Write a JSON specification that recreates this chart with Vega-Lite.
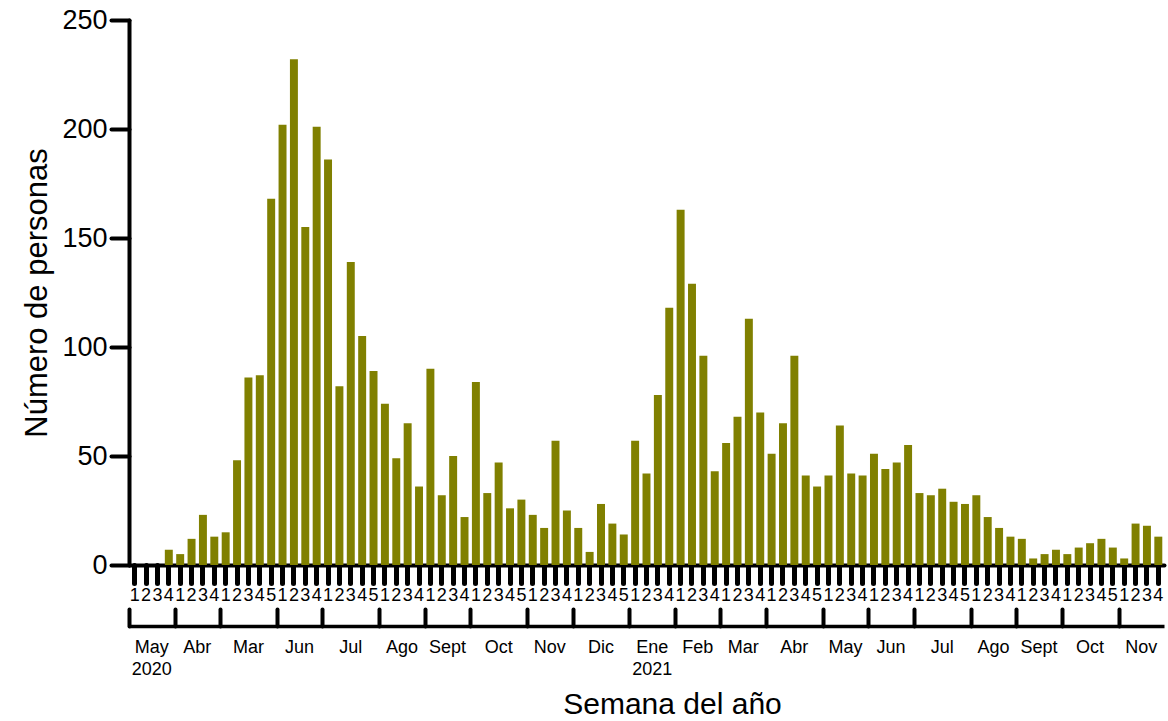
{
  "$schema": "https://vega.github.io/schema/vega-lite/v6.json",
  "width": 1035,
  "height": 545,
  "autosize": {"type": "none"},
  "padding": {"left": 129, "top": 20, "right": 4, "bottom": 156},
  "config": {
    "font": "Liberation Sans",
    "view": {"stroke": null},
    "axis": {"grid": false, "labelColor": "#000", "titleColor": "#000", "domainColor": "#000", "tickColor": "#000", "titleFontWeight": "normal"}
  },
  "data": {
    "values": [
      {"key": "2020|May|1", "anio": 2020, "mes": "May", "semana": 1, "n": 0},
      {"key": "2020|May|2", "anio": 2020, "mes": "May", "semana": 2, "n": 0},
      {"key": "2020|May|3", "anio": 2020, "mes": "May", "semana": 3, "n": 0},
      {"key": "2020|May|4", "anio": 2020, "mes": "May", "semana": 4, "n": 7},
      {"key": "2020|Abr|1", "anio": 2020, "mes": "Abr", "semana": 1, "n": 5},
      {"key": "2020|Abr|2", "anio": 2020, "mes": "Abr", "semana": 2, "n": 12},
      {"key": "2020|Abr|3", "anio": 2020, "mes": "Abr", "semana": 3, "n": 23},
      {"key": "2020|Abr|4", "anio": 2020, "mes": "Abr", "semana": 4, "n": 13},
      {"key": "2020|Mar|1", "anio": 2020, "mes": "Mar", "semana": 1, "n": 15},
      {"key": "2020|Mar|2", "anio": 2020, "mes": "Mar", "semana": 2, "n": 48},
      {"key": "2020|Mar|3", "anio": 2020, "mes": "Mar", "semana": 3, "n": 86},
      {"key": "2020|Mar|4", "anio": 2020, "mes": "Mar", "semana": 4, "n": 87},
      {"key": "2020|Mar|5", "anio": 2020, "mes": "Mar", "semana": 5, "n": 168},
      {"key": "2020|Jun|1", "anio": 2020, "mes": "Jun", "semana": 1, "n": 202},
      {"key": "2020|Jun|2", "anio": 2020, "mes": "Jun", "semana": 2, "n": 232},
      {"key": "2020|Jun|3", "anio": 2020, "mes": "Jun", "semana": 3, "n": 155},
      {"key": "2020|Jun|4", "anio": 2020, "mes": "Jun", "semana": 4, "n": 201},
      {"key": "2020|Jul|1", "anio": 2020, "mes": "Jul", "semana": 1, "n": 186},
      {"key": "2020|Jul|2", "anio": 2020, "mes": "Jul", "semana": 2, "n": 82},
      {"key": "2020|Jul|3", "anio": 2020, "mes": "Jul", "semana": 3, "n": 139},
      {"key": "2020|Jul|4", "anio": 2020, "mes": "Jul", "semana": 4, "n": 105},
      {"key": "2020|Jul|5", "anio": 2020, "mes": "Jul", "semana": 5, "n": 89},
      {"key": "2020|Ago|1", "anio": 2020, "mes": "Ago", "semana": 1, "n": 74},
      {"key": "2020|Ago|2", "anio": 2020, "mes": "Ago", "semana": 2, "n": 49},
      {"key": "2020|Ago|3", "anio": 2020, "mes": "Ago", "semana": 3, "n": 65},
      {"key": "2020|Ago|4", "anio": 2020, "mes": "Ago", "semana": 4, "n": 36},
      {"key": "2020|Sept|1", "anio": 2020, "mes": "Sept", "semana": 1, "n": 90},
      {"key": "2020|Sept|2", "anio": 2020, "mes": "Sept", "semana": 2, "n": 32},
      {"key": "2020|Sept|3", "anio": 2020, "mes": "Sept", "semana": 3, "n": 50},
      {"key": "2020|Sept|4", "anio": 2020, "mes": "Sept", "semana": 4, "n": 22},
      {"key": "2020|Oct|1", "anio": 2020, "mes": "Oct", "semana": 1, "n": 84},
      {"key": "2020|Oct|2", "anio": 2020, "mes": "Oct", "semana": 2, "n": 33},
      {"key": "2020|Oct|3", "anio": 2020, "mes": "Oct", "semana": 3, "n": 47},
      {"key": "2020|Oct|4", "anio": 2020, "mes": "Oct", "semana": 4, "n": 26},
      {"key": "2020|Oct|5", "anio": 2020, "mes": "Oct", "semana": 5, "n": 30},
      {"key": "2020|Nov|1", "anio": 2020, "mes": "Nov", "semana": 1, "n": 23},
      {"key": "2020|Nov|2", "anio": 2020, "mes": "Nov", "semana": 2, "n": 17},
      {"key": "2020|Nov|3", "anio": 2020, "mes": "Nov", "semana": 3, "n": 57},
      {"key": "2020|Nov|4", "anio": 2020, "mes": "Nov", "semana": 4, "n": 25},
      {"key": "2020|Dic|1", "anio": 2020, "mes": "Dic", "semana": 1, "n": 17},
      {"key": "2020|Dic|2", "anio": 2020, "mes": "Dic", "semana": 2, "n": 6},
      {"key": "2020|Dic|3", "anio": 2020, "mes": "Dic", "semana": 3, "n": 28},
      {"key": "2020|Dic|4", "anio": 2020, "mes": "Dic", "semana": 4, "n": 19},
      {"key": "2020|Dic|5", "anio": 2020, "mes": "Dic", "semana": 5, "n": 14},
      {"key": "2021|Ene|1", "anio": 2021, "mes": "Ene", "semana": 1, "n": 57},
      {"key": "2021|Ene|2", "anio": 2021, "mes": "Ene", "semana": 2, "n": 42},
      {"key": "2021|Ene|3", "anio": 2021, "mes": "Ene", "semana": 3, "n": 78},
      {"key": "2021|Ene|4", "anio": 2021, "mes": "Ene", "semana": 4, "n": 118},
      {"key": "2021|Feb|1", "anio": 2021, "mes": "Feb", "semana": 1, "n": 163},
      {"key": "2021|Feb|2", "anio": 2021, "mes": "Feb", "semana": 2, "n": 129},
      {"key": "2021|Feb|3", "anio": 2021, "mes": "Feb", "semana": 3, "n": 96},
      {"key": "2021|Feb|4", "anio": 2021, "mes": "Feb", "semana": 4, "n": 43},
      {"key": "2021|Mar|1", "anio": 2021, "mes": "Mar", "semana": 1, "n": 56},
      {"key": "2021|Mar|2", "anio": 2021, "mes": "Mar", "semana": 2, "n": 68},
      {"key": "2021|Mar|3", "anio": 2021, "mes": "Mar", "semana": 3, "n": 113},
      {"key": "2021|Mar|4", "anio": 2021, "mes": "Mar", "semana": 4, "n": 70},
      {"key": "2021|Abr|1", "anio": 2021, "mes": "Abr", "semana": 1, "n": 51},
      {"key": "2021|Abr|2", "anio": 2021, "mes": "Abr", "semana": 2, "n": 65},
      {"key": "2021|Abr|3", "anio": 2021, "mes": "Abr", "semana": 3, "n": 96},
      {"key": "2021|Abr|4", "anio": 2021, "mes": "Abr", "semana": 4, "n": 41},
      {"key": "2021|Abr|5", "anio": 2021, "mes": "Abr", "semana": 5, "n": 36},
      {"key": "2021|May|1", "anio": 2021, "mes": "May", "semana": 1, "n": 41},
      {"key": "2021|May|2", "anio": 2021, "mes": "May", "semana": 2, "n": 64},
      {"key": "2021|May|3", "anio": 2021, "mes": "May", "semana": 3, "n": 42},
      {"key": "2021|May|4", "anio": 2021, "mes": "May", "semana": 4, "n": 41},
      {"key": "2021|Jun|1", "anio": 2021, "mes": "Jun", "semana": 1, "n": 51},
      {"key": "2021|Jun|2", "anio": 2021, "mes": "Jun", "semana": 2, "n": 44},
      {"key": "2021|Jun|3", "anio": 2021, "mes": "Jun", "semana": 3, "n": 47},
      {"key": "2021|Jun|4", "anio": 2021, "mes": "Jun", "semana": 4, "n": 55},
      {"key": "2021|Jul|1", "anio": 2021, "mes": "Jul", "semana": 1, "n": 33},
      {"key": "2021|Jul|2", "anio": 2021, "mes": "Jul", "semana": 2, "n": 32},
      {"key": "2021|Jul|3", "anio": 2021, "mes": "Jul", "semana": 3, "n": 35},
      {"key": "2021|Jul|4", "anio": 2021, "mes": "Jul", "semana": 4, "n": 29},
      {"key": "2021|Jul|5", "anio": 2021, "mes": "Jul", "semana": 5, "n": 28},
      {"key": "2021|Ago|1", "anio": 2021, "mes": "Ago", "semana": 1, "n": 32},
      {"key": "2021|Ago|2", "anio": 2021, "mes": "Ago", "semana": 2, "n": 22},
      {"key": "2021|Ago|3", "anio": 2021, "mes": "Ago", "semana": 3, "n": 17},
      {"key": "2021|Ago|4", "anio": 2021, "mes": "Ago", "semana": 4, "n": 13},
      {"key": "2021|Sept|1", "anio": 2021, "mes": "Sept", "semana": 1, "n": 12},
      {"key": "2021|Sept|2", "anio": 2021, "mes": "Sept", "semana": 2, "n": 3},
      {"key": "2021|Sept|3", "anio": 2021, "mes": "Sept", "semana": 3, "n": 5},
      {"key": "2021|Sept|4", "anio": 2021, "mes": "Sept", "semana": 4, "n": 7},
      {"key": "2021|Oct|1", "anio": 2021, "mes": "Oct", "semana": 1, "n": 5},
      {"key": "2021|Oct|2", "anio": 2021, "mes": "Oct", "semana": 2, "n": 8},
      {"key": "2021|Oct|3", "anio": 2021, "mes": "Oct", "semana": 3, "n": 10},
      {"key": "2021|Oct|4", "anio": 2021, "mes": "Oct", "semana": 4, "n": 12},
      {"key": "2021|Oct|5", "anio": 2021, "mes": "Oct", "semana": 5, "n": 8},
      {"key": "2021|Nov|1", "anio": 2021, "mes": "Nov", "semana": 1, "n": 3},
      {"key": "2021|Nov|2", "anio": 2021, "mes": "Nov", "semana": 2, "n": 19},
      {"key": "2021|Nov|3", "anio": 2021, "mes": "Nov", "semana": 3, "n": 18},
      {"key": "2021|Nov|4", "anio": 2021, "mes": "Nov", "semana": 4, "n": 13}
    ]
  },
  "layer": [
    {
      "mark": {"type": "bar", "color": "#808000"},
      "encoding": {
        "x": {
          "field": "key", "type": "ordinal", "sort": null,
          "scale": {"paddingInner": 0.3, "paddingOuter": 0.15},
          "axis": {
            "orient": "bottom",
            "title": null,
            "labelExpr": "split(datum.value,'|')[2]",
            "labelAngle": 0, "labelFontSize": 18, "labelPadding": 3, "labelBaseline": "top",
            "labelOverlap": false,
            "tickSize": 18, "tickWidth": 5, "tickCap": "round",
            "domainWidth": 4, "domainCap": "round"
          }
        },
        "y": {
          "field": "n", "type": "quantitative",
          "scale": {"domain": [0, 250], "nice": false},
          "axis": {
            "title": "Número de personas", "titleFontSize": 31, "titlePadding": 8,
            "values": [0, 50, 100, 150, 200, 250],
            "labelFontSize": 27, "labelPadding": 4,
            "tickSize": 18, "tickWidth": 4, "tickCap": "round",
            "domainWidth": 4, "domainCap": "round"
          }
        }
      }
    },
    {
      "mark": {"type": "tick", "opacity": 0},
      "encoding": {
        "x": {
          "field": "key", "type": "ordinal", "sort": null,
          "axis": {
            "orient": "bottom",
            "title": null, "labels": false, "offset": 61,
            "values": ["2020|May|1", "2020|Abr|1", "2020|Mar|1", "2020|Jun|1", "2020|Jul|1", "2020|Ago|1", "2020|Sept|1", "2020|Oct|1", "2020|Nov|1", "2020|Dic|1", "2021|Ene|1", "2021|Feb|1", "2021|Mar|1", "2021|Abr|1", "2021|May|1", "2021|Jun|1", "2021|Jul|1", "2021|Ago|1", "2021|Sept|1", "2021|Oct|1", "2021|Nov|1"],
            "bandPosition": 0, "tickOffset": -1.7,
            "tickSize": -17, "tickWidth": 4, "tickCap": "round",
            "domainWidth": 3.5
          }
        }
      }
    },
    {
      "mark": {"type": "tick", "opacity": 0},
      "encoding": {
        "x": {
          "field": "key", "type": "ordinal", "sort": null,
          "axis": {
            "orient": "bottom",
            "title": "Semana del año", "titleFontSize": 30, "titlePadding": 11, "titleX": 543,
            "offset": 61, "ticks": false, "tickSize": 0, "domain": false,
            "values": ["2020|May|2", "2020|Abr|2", "2020|Mar|3", "2020|Jun|2", "2020|Jul|3", "2020|Ago|2", "2020|Sept|2", "2020|Oct|3", "2020|Nov|2", "2020|Dic|3", "2021|Ene|2", "2021|Feb|2", "2021|Mar|2", "2021|Abr|3", "2021|May|2", "2021|Jun|2", "2021|Jul|3", "2021|Ago|2", "2021|Sept|2", "2021|Oct|3", "2021|Nov|2"],
            "labelExpr": "split(datum.value,'|')[1] == 'Ene' || datum.value == '2020|May|2' ? [split(datum.value,'|')[1], split(datum.value,'|')[0]] : split(datum.value,'|')[1]",
            "labelAngle": 0, "labelFontSize": 18, "labelLineHeight": 22, "labelPadding": 12,
            "labelBaseline": "top", "labelOverlap": false,
            "labelOffset": {"condition": {"test": "split(datum.value,'|')[2] == '2'", "value": 5.69}, "value": 0}
          }
        }
      }
    }
  ],
  "resolve": {"axis": {"x": "independent"}}
}
